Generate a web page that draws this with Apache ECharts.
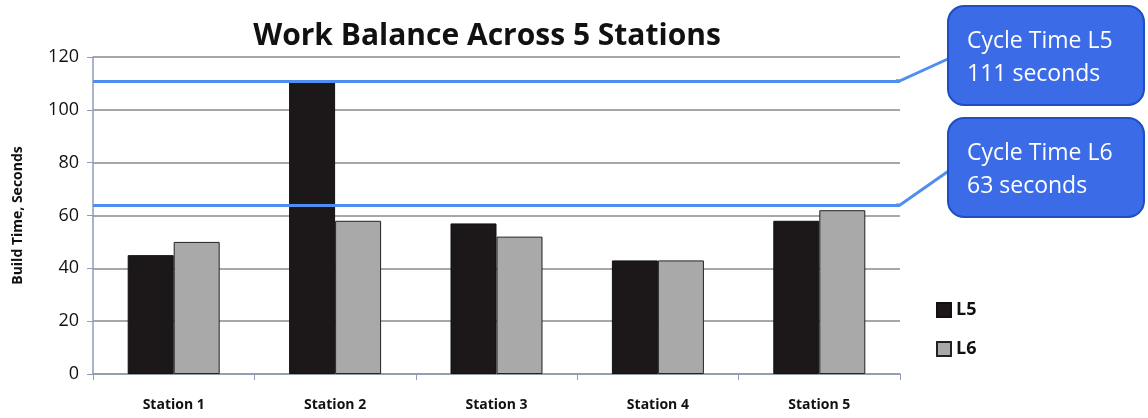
<!DOCTYPE html>
<html>
<head>
<meta charset="utf-8">
<script src="https://cdn.jsdelivr.net/npm/echarts@6/dist/echarts.min.js"></script>
<style>
  html, body { margin: 0; padding: 0; background: #fff; }
  #main { width: 1148px; height: 418px; }
</style>
</head>
<body>
<div id="main"></div>
<script>
// chart data
const stations = ['Station 1', 'Station 2', 'Station 3', 'Station 4', 'Station 5']
const l5 = [45, 111, 57, 43, 58]
const l6 = [50, 58, 52, 43, 62]
const cycleValues = [111, 64]
const cycleTitles = ['Cycle Time L5', 'Cycle Time L6']
const cycleTexts = ['111 seconds', '63 seconds']
const yTicks = [0, 120, 20]

const font = '"Open Sans", "Liberation Sans", sans-serif'
const myChart = echarts.init(document.getElementById('main'))

const options = {
  animation: false,
  backgroundColor: '#fff',
  title: {
    text: 'Work Balance Across 5 Stations',
    left: 482,
    textAlign: 'center',
    top: 16,
    textStyle: { fontFamily: font, fontSize: 30, fontWeight: 'bold', color: '#111' }
  },
  legend: {
    orient: 'vertical',
    left: 931,
    top: 296,
    icon: 'rect',
    itemWidth: 14,
    itemHeight: 14,
    itemGap: 21,
    textStyle: { fontFamily: font, fontSize: 18, fontWeight: 'bold', color: '#111' },
    data: ['L5', 'L6']
  },
  grid: { left: 93, right: 248, top: 57, bottom: 44 },
  xAxis: {
    type: 'category',
    data: stations,
    axisLine: { lineStyle: { color: '#8e9ab8', width: 1.5 } },
    axisTick: { show: true, length: 6, lineStyle: { color: '#8e9ab8' } },
    axisLabel: { fontFamily: font, fontSize: 14, fontWeight: 'bold', color: '#111', margin: 24 }
  },
  yAxis: {
    type: 'value',
    min: yTicks[0],
    max: yTicks[1],
    interval: yTicks[2],
    name: 'Build Time, Seconds',
    nameLocation: 'middle',
    nameGap: 68,
    nameTextStyle: { fontFamily: font, fontSize: 14, fontWeight: 'bold', color: '#111' },
    axisLine: { show: true, lineStyle: { color: '#8e9ab8', width: 1.5 } },
    axisTick: { show: true, length: 6, lineStyle: { color: '#8e9ab8' } },
    axisLabel: { fontFamily: font, fontSize: 18, color: '#111', margin: 14 },
    splitLine: { lineStyle: { color: '#8a8a8a', width: 1.5 } }
  },
  series: [
    {
      name: 'L5',
      type: 'bar',
      data: l5,
      barGap: '0%',
      barCategoryGap: '43%',
      itemStyle: { color: '#1c1819', borderColor: '#111', borderWidth: 1 },
      markLine: {
        silent: true,
        symbol: 'none',
        label: { show: false },
        lineStyle: { color: '#4f8ef0', width: 3, type: 'solid' },
        data: cycleValues.map((v) => ({ yAxis: v }))
      }
    },
    {
      name: 'L6',
      type: 'bar',
      data: l6,
      itemStyle: { color: '#a9a9a9', borderColor: '#222', borderWidth: 1 }
    }
  ]
}
myChart.setOption(options)

// callouts linked to the cycle-time lines
const xLast = myChart.convertToPixel({ xAxisIndex: 0 }, stations[4])
const xPrev = myChart.convertToPixel({ xAxisIndex: 0 }, stations[3])
const rightX = xLast + (xLast - xPrev) / 2
const boxTops = [6, 118]
const graphics = []
cycleValues.forEach((v, i) => {
  const y = myChart.convertToPixel({ yAxisIndex: 0 }, v)
  const top = boxTops[i]
  graphics.push({
    type: 'polyline',
    z: 10,
    shape: { points: [[rightX - 4, y], [rightX, y], [950, top + 52]] },
    style: { stroke: '#4f8ef0', lineWidth: 3, fill: 'none' }
  })
  graphics.push({
    type: 'rect',
    z: 11,
    shape: { x: 948, y: top, width: 196, height: 99, r: 16 },
    style: { fill: '#3b6be6', stroke: '#1f4ec0', lineWidth: 2 }
  })
  graphics.push({
    type: 'text',
    z: 12,
    style: {
      x: 967, y: top + 19,
      text: cycleTitles[i] + '\n' + cycleTexts[i],
      fill: '#fff',
      font: '23px ' + font,
      lineHeight: 33
    }
  })
})
myChart.setOption({ graphic: graphics })
</script>
</body>
</html>
